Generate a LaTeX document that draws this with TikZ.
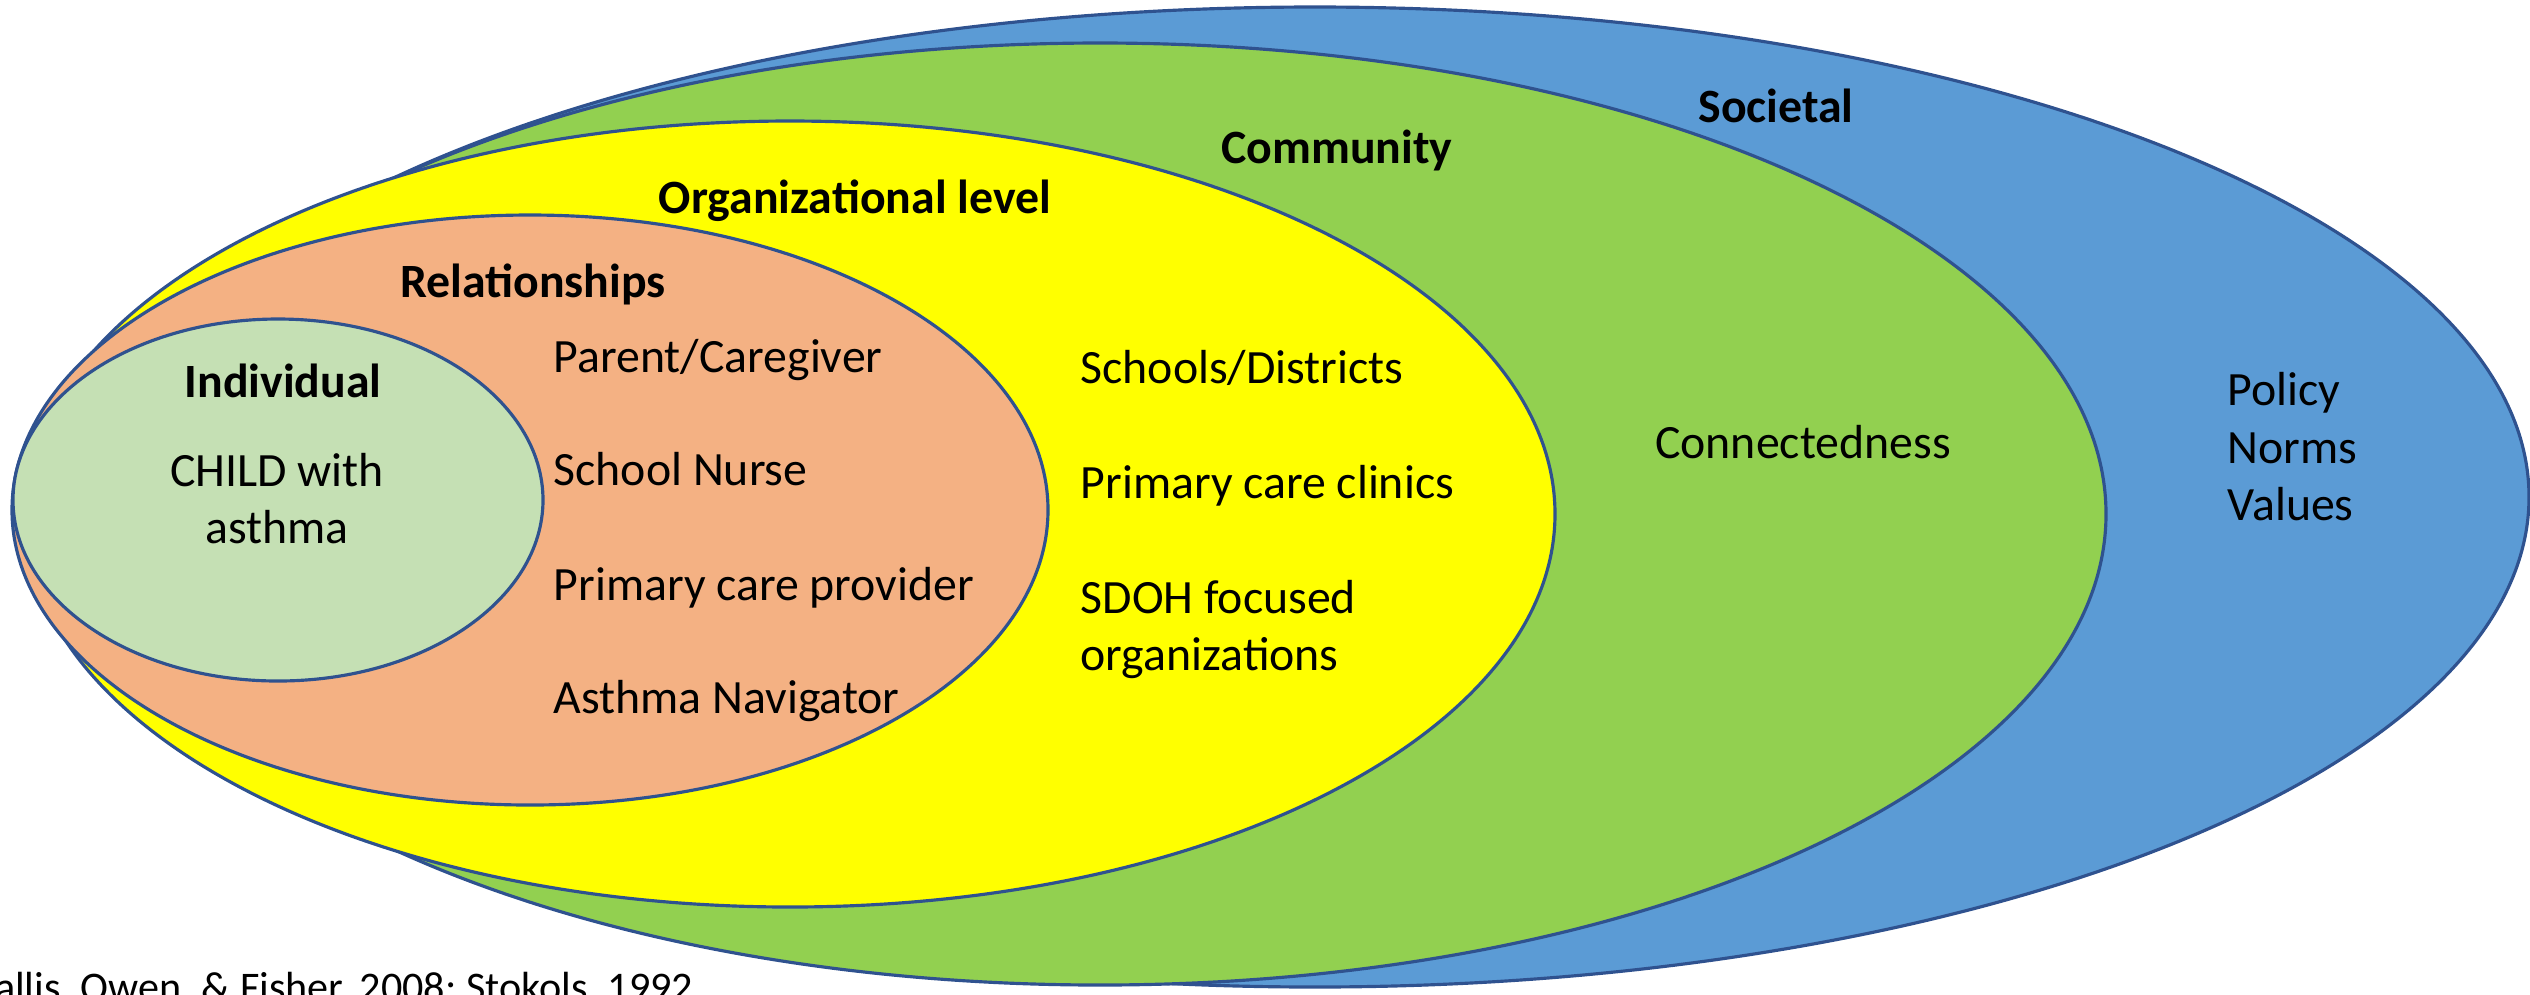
\documentclass[tikz,border=0pt]{standalone}
\usepackage{fontspec}
\setmainfont{Carlito}
\usepackage{tikz}
\usetikzlibrary{positioning,shapes}
\definecolor{ringline}{HTML}{2F528F}
\definecolor{socblue}{HTML}{5B9BD5}
\definecolor{comgreen}{HTML}{92D050}
\definecolor{orgyellow}{HTML}{FFFF00}
\definecolor{relorange}{HTML}{F4B183}
\definecolor{indgreen}{HTML}{C5E0B4}
\tikzstyle{ring}  = [draw=ringline, line width=0.9pt]
\tikzstyle{title} = [font=\fontsize{13.6}{16.2}\selectfont\bfseries, inner sep=0pt, anchor=base]
\tikzstyle{item}  = [font=\fontsize{13.6}{16.2}\selectfont, inner sep=0pt, anchor=base west]

\begin{document}
\begin{tikzpicture}[x=0.1mm, y=-0.1mm]
		\useasboundingbox (0,0) rectangle (2530,994);
		\clip (0,0) rectangle (2530,994);

		\draw[ring, fill=socblue]   (1315,497) ellipse (1214 and 490);
		\draw[ring, fill=comgreen]  (1100,514) ellipse (1006 and 471);
		\draw[ring, fill=orgyellow] (790,514)  ellipse (765 and 393);
		\draw[ring, fill=relorange] (530,510)  ellipse (518 and 295);
		\draw[ring, fill=indgreen]  (278,500)  ellipse (265 and 181);

		\node[title] (societal) at (1776,122) {Societal};
		\node[title] (community) at (1337,163) {Community};
		\node[title] (organizational) at (855,213) {Organizational level};
		\node[title] (relationships) at (533,297) {Relationships};
		\node[title] (individual) at (283,397) {Individual};

		\node[item, anchor=base, align=center] (child) at (277,543) {CHILD with\\asthma};

		\node[item] (parent) at (553,372) {Parent/Caregiver};
		\node[item] (nurse) at (553,485) {School Nurse};
		\node[item] (provider) at (553,600) {Primary care provider};
		\node[item] (navigator) at (553,713) {Asthma Navigator};

		\node[item] (schools) at (1080,383) {Schools/Districts};
		\node[item] (clinics) at (1080,498) {Primary care clinics};
		\node[item, align=left] (sdoh) at (1080,670) {SDOH focused\\organizations};

		\node[item, anchor=base] (connected) at (1803,458) {Connectedness};

		\node[item] (policy) at (2227,405) {Policy};
		\node[item] (norms) at (2227,463) {Norms};
		\node[item] (values) at (2227,520) {Values};

		\node[item, anchor=base east, font=\fontsize{12}{14.4}\selectfont] (cite) at (694,1001) {Sallis, Owen, \& Fisher, 2008; Stokols, 1992};
	\end{tikzpicture}
\end{document}
